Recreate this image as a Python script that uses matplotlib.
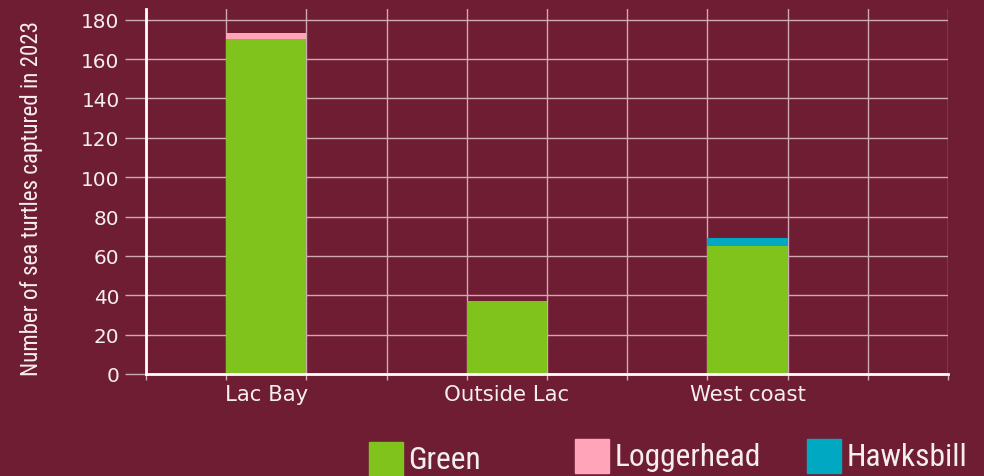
import matplotlib
matplotlib.use("Agg")
import matplotlib.pyplot as plt
from matplotlib import font_manager
from matplotlib.patches import Rectangle
import numpy as np

# data
regions = ["Lac Bay", "Outside Lac", "West coast"]
species = ["Green", "Loggerhead", "Hawksbill"]
green = [170, 37, 65]
loggerhead = [3, 0, 0]
hawksbill = [0, 0, 4]
yticks = [0, 20, 40, 60, 80, 100, 120, 140, 160, 180]

BG = "#6f1d33"
colors = ["#80c31c", "#ffa4b9", "#00a9c1"]
GRID = "#cfaab5"
TXT = "#f5eef0"

# condensed face if one exists, else Roboto
names = {f.name for f in font_manager.fontManager.ttflist}
narrow = next((n for n in ["Roboto Condensed", "Liberation Sans Narrow", "Open Sans Condensed"]
               if n in names), "Roboto")

fig = plt.figure(figsize=(9.84, 4.77), dpi=100, facecolor=BG)
ax = fig.add_axes([146 / 984, 102 / 477, 802 / 984, 365 / 477], facecolor=BG)

x = np.arange(len(regions))
w = 1 / 3
bottom = np.zeros(len(regions))
for vals, c in zip([green, loggerhead, hawksbill], colors):
    ax.bar(x, vals, w, bottom=bottom, color=c, zorder=3, linewidth=0)
    bottom += vals

ax.set_xlim(-0.5, -0.5 + 10 / 3)
ax.set_ylim(0, 185.4)
ax.set_xticks(x)
ax.set_xticklabels(regions, family="DejaVu Sans", fontsize=13, color=TXT)
ax.set_xticks(-0.5 + np.arange(11) / 3, minor=True)
ax.set_yticks(yticks)
ax.set_yticklabels([str(v) for v in yticks], family="DejaVu Sans", fontsize=12.5, color=TXT)

ax.grid(which="minor", axis="x", color=GRID, lw=1, zorder=1)
ax.grid(which="major", axis="y", color=GRID, lw=1, zorder=1)
ax.grid(which="major", axis="x", visible=False)

ax.tick_params(axis="y", length=15, color=GRID, width=1, pad=4)
ax.tick_params(axis="x", which="major", length=0, pad=7)
ax.tick_params(axis="x", which="minor", length=4, color=GRID, width=1)

for s in ["top", "right"]:
    ax.spines[s].set_visible(False)
for s in ["left", "bottom"]:
    ax.spines[s].set_color("white")
    ax.spines[s].set_linewidth(2)
    ax.spines[s].set_zorder(4)

ylab = fig.text(32 / 984, 1 - 198 / 477, "Number of sea turtles captured in 2023",
                rotation=90, ha="center", va="center", family=narrow, fontsize=20, color=TXT)

# legend drawn by hand: squares and labels at the reference spots
sq = [(369, 443), (575, 440), (807, 440)]
tx = [408, 615, 847]
widths = [73, 147, 121]
leg_texts = []
for name, c, (sx, sy), lx in zip(species, colors, sq, tx):
    fig.patches.append(Rectangle((sx / 984, 1 - (sy + 34) / 477), 34 / 984, 34 / 477,
                                 transform=fig.transFigure, color=c, figure=fig))
    leg_texts.append(fig.text(lx / 984, 1 - (sy + 18) / 477, name, ha="left", va="center",
                              family=narrow, fontsize=24, color=TXT))

# scale texts so their lengths match the reference
fig.canvas.draw()
r = fig.canvas.get_renderer()
def fit(t, target):
    bb = t.get_window_extent(r)
    t.set_fontsize(t.get_fontsize() * target / max(bb.width, bb.height))

fit(ylab, 355)
for t, wd in zip(leg_texts, widths):
    fit(t, wd)
ylabs = ax.get_yticklabels()
k = 38 / ylabs[-1].get_window_extent(r).width
for t in ylabs:
    t.set_fontsize(t.get_fontsize() * k)
xlabs = ax.get_xticklabels()
k = 125 / xlabs[1].get_window_extent(r).width
for t in xlabs:
    t.set_fontsize(t.get_fontsize() * k)

fig.savefig("out.png", dpi=100, facecolor=BG)
